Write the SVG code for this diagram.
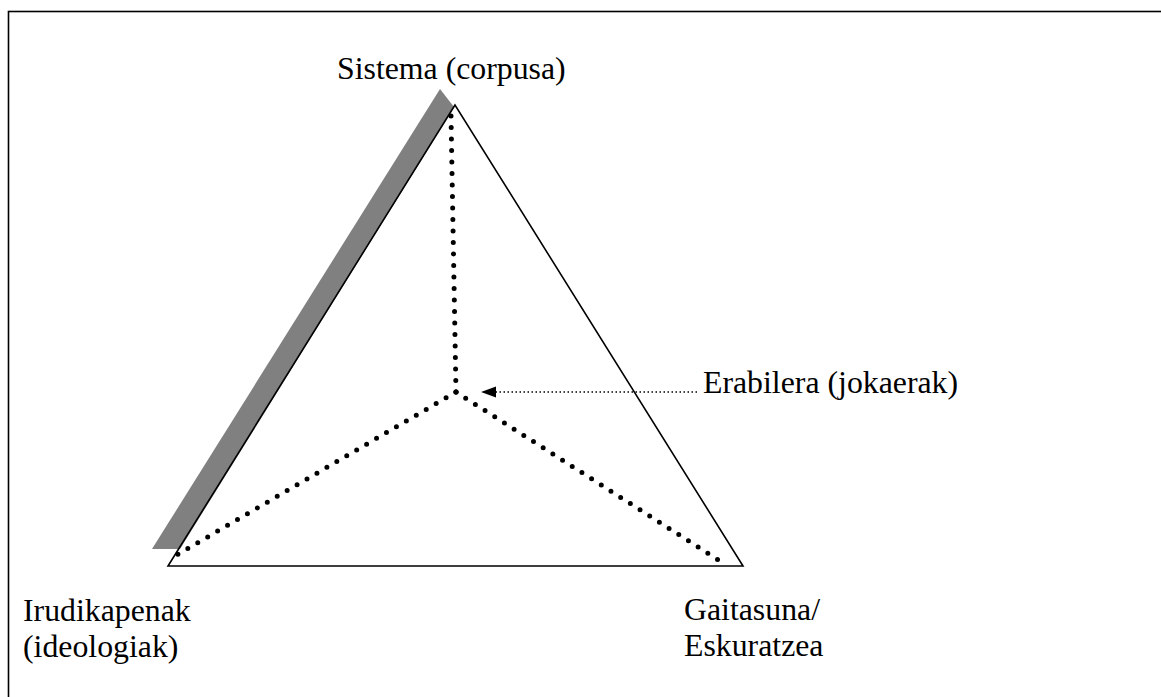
<svg xmlns="http://www.w3.org/2000/svg" width="1161" height="697" viewBox="0 0 1161 697">
<style>
.lbl{font-family:"Liberation Serif","Times New Roman",serif;font-size:31.8px;fill:#000}
.dots{fill:none;stroke:#000;stroke-width:5;stroke-linecap:round;stroke-dasharray:0 11.5}
</style>
<rect x="0" y="0" width="1161" height="697" fill="#fff"/>
<rect x="8.5" y="11.5" width="1170" height="700" fill="none" stroke="#000" stroke-width="1.6"/>
<g id="shadow">
<polygon points="152,549 180,549 454,107 440,89" fill="#808080"/>
</g>
<g id="triangle">
<polygon points="455,105 168,566 743,566" fill="none" stroke="#000" stroke-width="1.6"/>
</g>
<g id="connectors">
<path class="dots" d="M451,116 L456,392"/>
<path class="dots" d="M456,392 L175,556"/>
<path class="dots" d="M456,392 L720,561"/>
<path d="M697,392 L496,392" fill="none" stroke="#000" stroke-width="1.5" stroke-dasharray="1.5 2.5"/>
<polygon points="481,392 496,386.5 496,397.5" fill="#000"/>
</g>
<g id="n-sistema"><text class="lbl" x="337" y="79">Sistema (corpusa)</text></g>
<g id="n-erabilera"><text class="lbl" x="703" y="393">Erabilera (jokaerak)</text></g>
<g id="n-irudikapenak"><text class="lbl" x="23" y="621">Irudikapenak</text><text class="lbl" x="23" y="657">(ideologiak)</text></g>
<g id="n-gaitasuna"><text class="lbl" x="684" y="620">Gaitasuna/</text><text class="lbl" x="684" y="656">Eskuratzea</text></g>
</svg>
